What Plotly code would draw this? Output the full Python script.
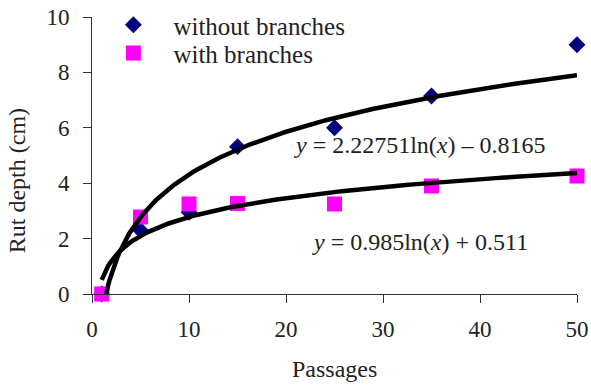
import numpy as np
import plotly.graph_objects as go

# Rut depth measurements per number of passages
passages = [1, 5, 10, 15, 25, 35, 50]
rut_without = [0.0, 2.3, 2.95, 5.32, 6.0, 7.15, 9.0]
rut_with = [0.0, 2.78, 3.25, 3.27, 3.25, 3.9, 4.26]

# Logarithmic trend coefficients (y = a ln(x) + b)
trend_without = (2.22751, -0.8165)
trend_with = (0.985, 0.511)

x_ticks = [0, 10, 20, 30, 40, 50]
y_ticks = [0, 2, 4, 6, 8, 10]

FONT = "Liberation Serif"
TXT = "#222222"

xs = np.linspace(1, 50, 300)

fig = go.Figure()
fig.add_trace(go.Scatter(
    x=passages, y=rut_without, mode="markers", name="without branches",
    marker=dict(symbol="diamond", size=13, color="#000080"),
    cliponaxis=False, legend="legend"))
fig.add_trace(go.Scatter(
    x=passages, y=rut_with, mode="markers", name="with branches",
    marker=dict(symbol="square", size=15, color="#FF00FF"),
    cliponaxis=False, legend="legend2"))
for a, b in (trend_without, trend_with):
    fig.add_trace(go.Scatter(
        x=xs, y=a * np.log(xs) + b, mode="lines", showlegend=False,
        line=dict(color="black", width=4.5), hoverinfo="skip"))

axis_common = dict(
    showgrid=False, zeroline=False, showline=True, linecolor="#333333",
    linewidth=1, ticks="outside", tickcolor="#333333", ticklen=8, tickwidth=1,
    automargin=False, tickfont=dict(family=FONT, size=23, color=TXT))

fig.update_xaxes(range=[0, 50], tickvals=x_ticks, ticklabelstandoff=6,
                 **axis_common)
fig.update_yaxes(range=[0, 10], tickvals=y_ticks, ticklabelstandoff=9,
                 **axis_common)

legend_common = dict(xref="container", yref="container", x=0.158,
                     xanchor="left", yanchor="middle",
                     bgcolor="rgba(0,0,0,0)", itemwidth=70,
                     font=dict(family=FONT, size=25, color=TXT))

fig.update_layout(
    width=591, height=385,
    margin=dict(l=92, r=14, t=17, b=91, autoexpand=False),
    plot_bgcolor="white", paper_bgcolor="white",
    font=dict(family=FONT, size=24, color=TXT),
    legend=dict(y=0.935, **legend_common),
    legend2=dict(y=0.862, **legend_common),
    annotations=[
        dict(text="<i>y</i> = 2.22751ln(<i>x</i>) – 0.8165",
             x=33.8, y=5.38, xref="x", yref="y", showarrow=False,
             font=dict(family=FONT, size=24, color=TXT)),
        dict(text="<i>y</i> = 0.985ln(<i>x</i>) + 0.511",
             x=33.8, y=1.88, xref="x", yref="y", showarrow=False,
             font=dict(family=FONT, size=24, color=TXT)),
        dict(text="Rut depth (cm)", textangle=-90,
             x=-0.153, y=0.41, xref="paper", yref="paper",
             xanchor="center", yanchor="middle", showarrow=False,
             font=dict(family=FONT, size=24, color=TXT)),
        dict(text="Passages", x=0.5, y=-0.215, xref="paper", yref="paper",
             xanchor="center", yanchor="top", showarrow=False,
             font=dict(family=FONT, size=24, color=TXT)),
    ],
)

fig.write_html("out.html")
